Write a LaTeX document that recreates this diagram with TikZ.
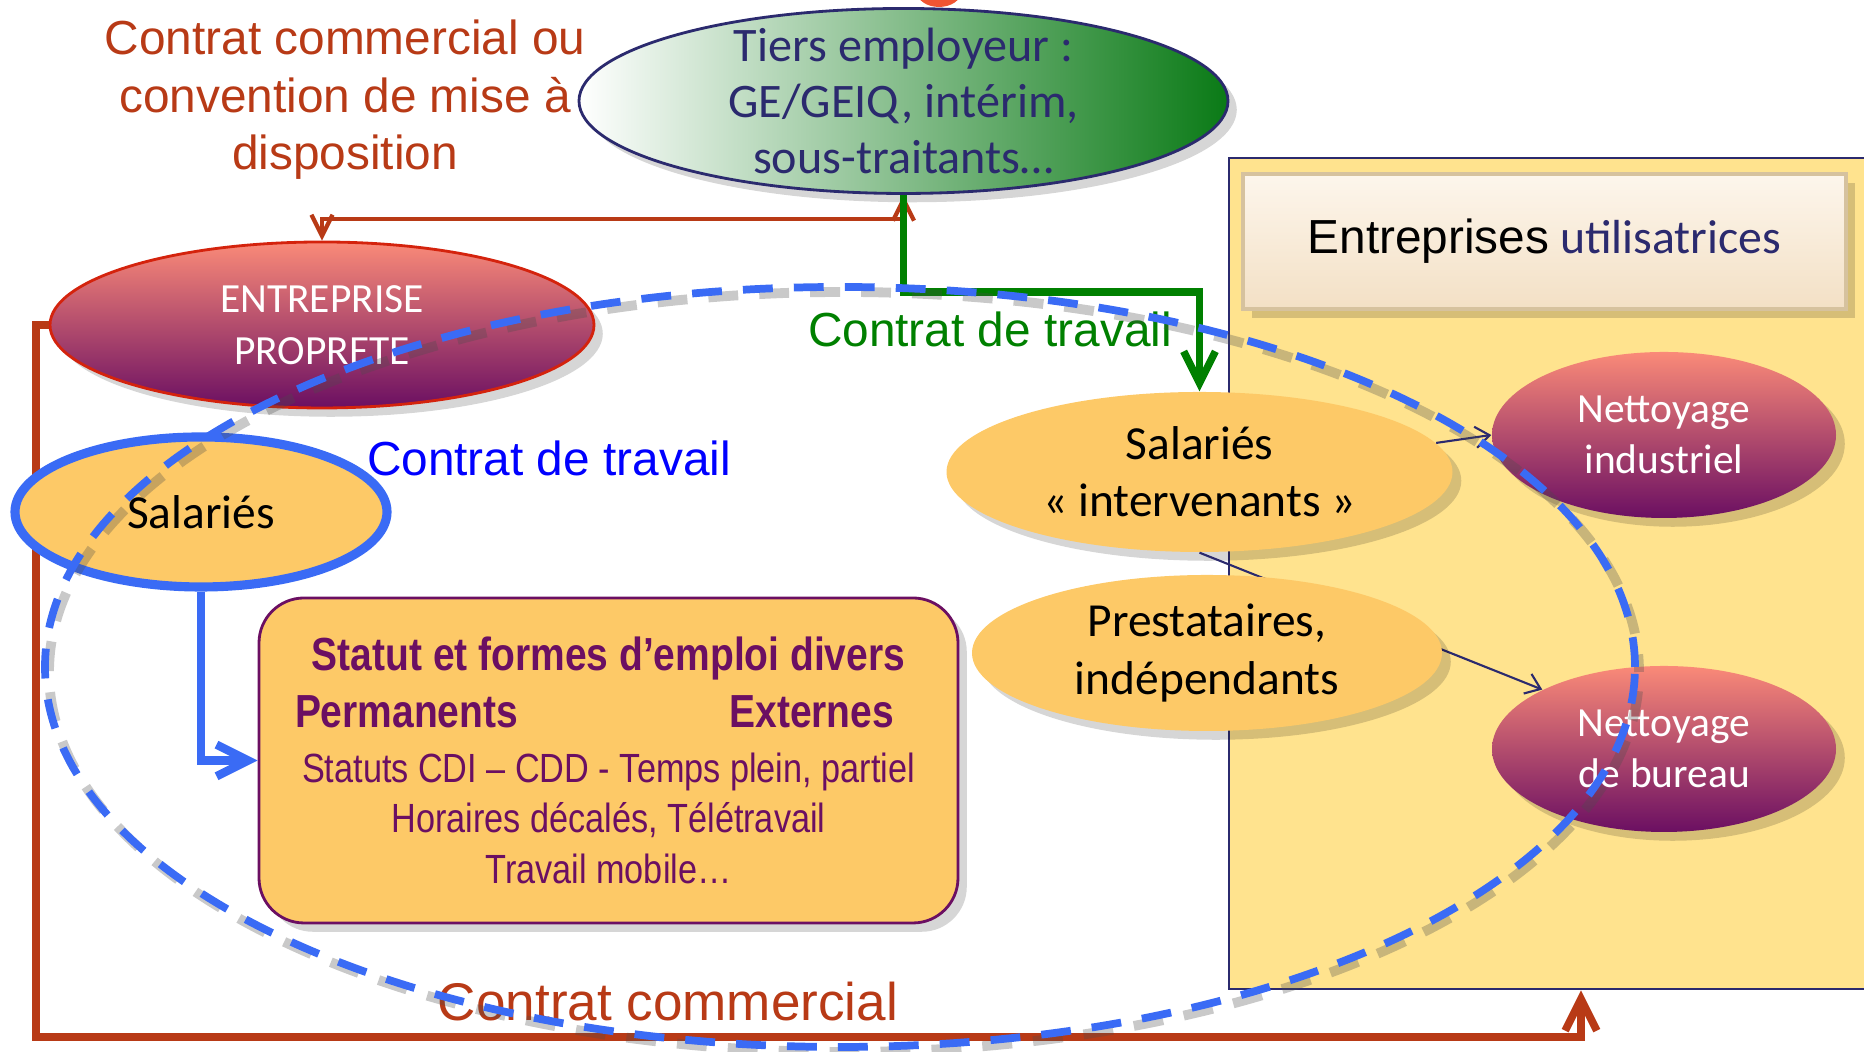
\documentclass[tikz,border=0pt]{standalone}
\usepackage{fontspec}
\setmainfont{Carlito}
\newfontfamily\arialfont{Liberation Sans}
\newfontfamily\narrowfont[FakeStretch=0.84]{Liberation Sans}
\usetikzlibrary{shapes.geometric,arrows.meta,shadows}

\definecolor{brick}{RGB}{184,58,22}
\definecolor{tgreen}{RGB}{0,128,0}
\definecolor{darkgreen}{RGB}{10,122,22}
\definecolor{lightgreen}{RGB}{160,208,160}
\definecolor{ringblue}{RGB}{58,107,245}
\definecolor{navy}{RGB}{43,42,110}
\definecolor{orangefill}{RGB}{253,201,103}
\definecolor{salmon}{RGB}{250,138,120}
\definecolor{plum}{RGB}{107,15,98}
\definecolor{paleyellow}{RGB}{255,227,142}
\definecolor{cream}{RGB}{253,246,236}
\definecolor{sand}{RGB}{243,224,197}
\definecolor{tan}{RGB}{214,194,158}
\definecolor{redblob}{RGB}{240,84,50}

\tikzset{
  softshadow/.style={drop shadow={shadow xshift=2.5pt,shadow yshift=-2.5pt,opacity=0.16,fill=black}},
  ell/.style={ellipse,inner sep=0pt,align=center},
  tierell/.style={ell,draw=navy,line width=0.8pt,left color=white,middle color=lightgreen,
    right color=darkgreen,text=navy,softshadow,font=\fontsize{13.7}{16}\selectfont},
  plumell/.style={ell,top color=salmon,bottom color=plum,text=white,softshadow,
    font=\fontsize{11.8}{14.7}\selectfont},
  orangeell/.style={ell,fill=orangefill,softshadow,font=\fontsize{13.5}{16.3}\selectfont},
  brickthin/.style={draw=brick,line width=1.2pt},
  brickthick/.style={draw=brick,line width=2.2pt},
  greenline/.style={draw=tgreen,line width=2.1pt},
  blueline/.style={draw=ringblue,line width=2.4pt},
  thinarrow/.style={draw=navy,line width=0.6pt,-{Straight Barb[length=4pt,width=6pt]}},
  bigbarb/.style={-{Straight Barb[length=9pt,width=9pt]}},
  ring/.style={draw=ringblue,line width=2.2pt,dash pattern=on 8.5pt off 6pt},
  ringshadow/.style={draw=black!70,opacity=0.3,line width=2.8pt,dash pattern=on 8.5pt off 6pt,dash phase=3.5pt},
  label14/.style={font=\arialfont\fontsize{13.6}{16.4}\selectfont,align=center}
}

\begin{document}
\begin{tikzpicture}
\useasboundingbox (0,0) rectangle (18.64,10.52);
\clip (0,0) rectangle (18.64,10.52);

% entreprises utilisatrices
\node[fill=paleyellow,draw=navy,line width=0.8pt,minimum width=6.41cm,minimum height=8.31cm] (users) at (15.495,4.785) {};
\node[top color=cream,bottom color=sand,draw=tan,line width=1pt,softshadow,minimum width=6.03cm,minimum height=1.35cm,
  font=\fontsize{13.6}{16}\selectfont] (usertitle) at (15.445,8.105)
  {{\arialfont Entreprises} \textcolor{navy}{utilisatrices}};

\fill[redblob] (9.39,10.60) ellipse [x radius=0.22,y radius=0.15];

% noeuds
\node[tierell,minimum width=6.49cm,minimum height=1.85cm,inner ysep=-6pt] (tiers) at (9.035,9.51)
  {Tiers employeur :\\GE/GEIQ, intérim,\\sous-traitants…};
\node[plumell,draw=brick!60!red,line width=0.8pt,minimum width=5.44cm,minimum height=1.66cm] (entr) at (3.22,7.27)
  {ENTREPRISE\\PROPRETE};
\node[label14,text=brick] (mad) at (3.45,9.52) {Contrat commercial ou\\convention de mise à\\disposition};

\node[orangeell,minimum width=5.06cm,minimum height=1.6cm] (interv) at (11.995,5.80)
  {Salariés\\« intervenants »};
\node[plumell,minimum width=3.44cm,minimum height=1.66cm] (indus) at (16.64,6.17) {Nettoyage\\industriel};
\node[plumell,minimum width=3.44cm,minimum height=1.66cm] (bureau) at (16.64,3.03) {Nettoyage\\de bureau};
\draw[thinarrow] (interv.7) -- (indus.west);
\draw[thinarrow] (interv.south) -- (bureau.154);
\node[orangeell,minimum width=4.70cm,minimum height=1.56cm] (presta) at (12.07,3.99)
  {Prestataires,\\indépendants};

% contrat commercial
\coordinate (corner) at (0.36,0.15);
\draw[brickthick,bigbarb] (entr.west) -| (corner) -| ([xshift=0.315cm]users.south);
\node[label14,text=brick,font=\arialfont\fontsize{15.1}{18}\selectfont] (commercial) at (6.68,0.50) {Contrat commercial};

% tiers employeur
\draw[brickthin,{Straight Barb[length=6pt,width=6pt]}-{Straight Barb[length=6pt,width=6pt]}]
  (tiers.south) -- ++(0,-0.24) -| (entr.north);
\draw[greenline,bigbarb] (tiers.south) -- ++(0,-0.97) -| (interv.north);
\node[label14,text=tgreen] (travailtiers) at (9.90,7.23) {Contrat de travail};

% salaries
\node[ell,fill=orangefill,draw=ringblue,line width=2.6pt,minimum width=3.72cm,minimum height=1.50cm,
  font=\fontsize{13.5}{16.3}\selectfont] (sal) at (2.01,5.40) {Salariés};
\node[label14,text=blue] (travailsal) at (5.49,5.94) {Contrat de travail};
\node[fill=orangefill,draw=plum,line width=0.8pt,rounded corners=0.45cm,softshadow,text=plum,align=center,
  minimum width=6.99cm,minimum height=3.25cm,font=\narrowfont\fontsize{11.6}{14.5}\selectfont] (statut) at (6.085,2.915)
  {{\bfseries\fontsize{13.2}{14.5}\selectfont Statut et formes d’emploi divers}\\[1.7pt]
   {\bfseries\fontsize{13.2}{14.5}\selectfont\makebox[6.27cm][l]{\makebox[5.99cm]{Permanents\hfill Externes}}}\\[1.1pt]
   Statuts CDI – CDD - Temps plein, partiel\\
   Horaires décalés, Télétravail\\
   Travail mobile…};
\draw[blueline,bigbarb] (sal.south) |- (statut.west);

% perimetre
\draw[ringshadow,shift={(0.04,-0.05)}] (8.40,3.85) ellipse [x radius=7.95,y radius=3.80];
\draw[ring] (8.40,3.85) ellipse [x radius=7.95,y radius=3.80];
\end{tikzpicture}
\end{document}
